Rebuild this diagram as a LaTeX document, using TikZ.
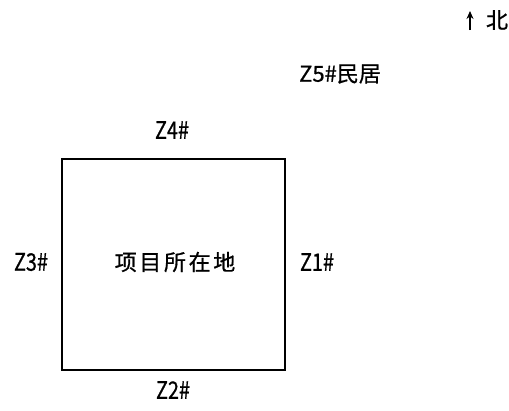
\documentclass[tikz,border=0pt]{standalone}
\usepackage{fontspec}
\setmainfont{Noto Sans CJK SC}
\newfontfamily\lblfont{Noto Sans CJK SC}[FakeBold=0.8]
\usetikzlibrary{arrows.meta}
\begin{document}
\begin{tikzpicture}[x=1pt,y=-1pt,
    lbl/.style={font=\fontsize{22}{24}\lblfont,inner sep=0pt},
    site/.style={draw,line width=1.8pt,minimum width=223pt,minimum height=211pt,inner sep=0pt}]
    \useasboundingbox (0,0) rectangle (509,410);
    \node[site] (site) at (173.5,264.5) {};
    \node[lbl,font=\fontsize{22}{24}\lblfont\addfontfeatures{LetterSpace=12}] (name) at (175,262) {项目所在地};
    \node[lbl,xscale=0.9,yscale=1.1] (z1) at (317,262) {Z1\#};
    \node[lbl,xscale=0.9,yscale=1.1] (z2) at (173,390) {Z2\#};
    \node[lbl,xscale=0.9,yscale=1.1] (z3) at (31,262) {Z3\#};
    \node[lbl,xscale=0.9,yscale=1.1] (z4) at (172,130) {Z4\#};
    \node[lbl] (z5) at (340,74) {Z5\#民居};
    \node[lbl] (north) at (497,20) {北};
    % north arrow
    \coordinate (nbase) at (470,30);
    \coordinate (ntip) at (470,11);
    \draw[line width=1.8pt,-{Stealth[length=8pt,width=7pt]}] (nbase) -- (ntip);
\end{tikzpicture}
\end{document}
